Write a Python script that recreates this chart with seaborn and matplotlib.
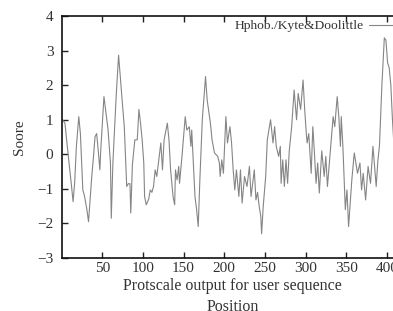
import matplotlib
matplotlib.use('agg')
import matplotlib.pyplot as plt
import seaborn as sns
import pandas as pd

# hydrophobicity profile (position, score)
posicion = [1, 4, 7, 10, 12, 14, 16, 18, 21, 23, 26, 28, 31, 33, 35, 37, 39, 41, 43, 45,
            47, 48, 50, 52, 54, 57, 60, 61, 63, 65, 67, 70, 73, 75, 77, 80, 82, 84, 85, 87,
            90, 93, 95, 97, 99, 101, 102, 104, 107, 109, 111, 113, 115, 117, 119, 122, 124, 126, 130, 132,
            134, 137, 139, 140, 142, 144, 145, 148, 152, 154, 157, 159, 160, 162, 164, 166, 168, 170, 173, 177,
            179, 183, 185, 188, 192, 194, 195, 197, 199, 202, 204, 207, 209, 211, 213, 215, 218, 220, 222, 225,
            228, 231, 233, 237, 239, 241, 243, 245, 246, 248, 251, 253, 257, 260, 262, 264, 267, 269, 270, 272,
            274, 276, 278, 280, 283, 286, 289, 291, 294, 297, 299, 301, 302, 304, 307, 309, 311, 313, 315, 317,
            320, 323, 325, 327, 331, 334, 336, 339, 341, 343, 344, 346, 349, 351, 353, 357, 360, 364, 367, 369,
            371, 374, 377, 380, 383, 387, 389, 391, 394, 397, 399, 401, 403, 405, 407, 409, 411]
puntaje = [1.0, 0.9, 0.2, -0.45, -0.9, -1.37, -0.8, 0.2, 1.09, 0.6, -1.03, -1.2, -1.6, -1.95, -1.3, -0.64, -0.1, 0.51, 0.6, 0.1,
           -0.45, 0.1, 0.9, 1.67, 1.3, 0.72, -0.25, -1.85, -0.25, 0.7, 1.67, 2.87, 1.96, 1.38, 0.8, -0.93, -0.85, -0.85, -1.7, -0.3,
           0.42, 0.42, 1.3, 0.9, 0.42, -0.25, -1.22, -1.46, -1.3, -1.03, -1.1, -0.93, -0.45, -0.64, -0.25, 0.33, -0.45, 0.42, 0.9, 0.42,
           -0.45, -1.22, -1.46, -0.45, -0.74, -0.35, -0.84, -0.06, 1.09, 0.7, 0.8, 0.23, 0.7, -0.25, -1.22, -1.6, -2.09, -0.74, 1.0, 2.25,
           1.57, 0.9, 0.42, 0.04, -0.06, -0.25, -0.64, -0.16, -0.55, 1.09, 0.33, 0.8, 0.33, -0.45, -1.03, -0.45, -1.22, -0.45, -1.41, -0.64,
           -0.93, -0.35, -1.22, -0.45, -1.32, -1.1, -1.5, -1.8, -2.3, -1.5, -0.64, 0.42, 1.0, 0.33, 0.8, 0.23, -0.06, 0.23, -0.84, -0.16,
           -0.93, -0.16, -0.84, 0.1, 0.8, 1.86, 1.0, 1.76, 1.3, 2.15, 1.3, 0.6, 0.33, 0.6, -0.55, 0.8, 0.04, -0.84, -0.25, -1.12,
           0.1, -0.64, -0.06, -0.93, 0.23, 1.09, 0.8, 1.67, 1.09, 0.23, 1.09, 0.23, -1.6, -1.03, -2.09, -0.74, 0.04, -0.55, -0.25, -1.03,
           -0.55, -1.32, -0.35, -0.84, 0.23, -0.93, -0.2, 0.24, 2.0, 3.37, 3.3, 2.65, 2.5, 2.0, 1.0, 0.2, -0.5]

ticks_x = [50, 100, 150, 200, 250, 300, 350, 400]
ticks_y = [-3, -2, -1, 0, 1, 2, 3, 4]

sns.set_theme(style="ticks")
plt.rcParams['font.family'] = ['Liberation Serif', 'DejaVu Serif']
plt.rcParams['axes.unicode_minus'] = True

df = pd.DataFrame({'pos': posicion, 'score': puntaje})

fig = plt.figure(figsize=(3.93, 3.11), dpi=100)
ax = fig.add_axes([0.157, 0.1704, 0.8685, 0.778])

sns.lineplot(x='pos', y='score', data=df, ax=ax, color='#858585', linewidth=0.8,
             label='Hphob./Kyte&Doolittle')

ax.set_xlim(0, 420)
ax.set_ylim(-3, 4)
ax.set_xticks(ticks_x)
ax.set_yticks(ticks_y)
ax.tick_params(axis='both', direction='in', length=4, width=1, top=True, right=True,
               labelsize=11, colors='#222222', labelcolor='#333333')
ax.tick_params(axis='x', pad=3)
ax.tick_params(axis='y', pad=6)
for s in ax.spines.values():
    s.set_linewidth(1.2)
    s.set_color('#111111')

ax.set_ylabel('Soore', fontsize=11, color='#333333', labelpad=8)
ax.set_xlabel('Protscale output for user sequence\nPosition', fontsize=11.5,
              color='#333333', labelpad=2, linespacing=1.4)

ax.legend(loc='upper right', bbox_to_anchor=(403 / 393, 291 / 311),
          bbox_transform=fig.transFigure, frameon=False, markerfirst=False,
          fontsize=9.7, handlelength=2.5, handletextpad=0.4, borderpad=0,
          borderaxespad=0, labelcolor='#333333')

fig.savefig('out.png', dpi=100)
